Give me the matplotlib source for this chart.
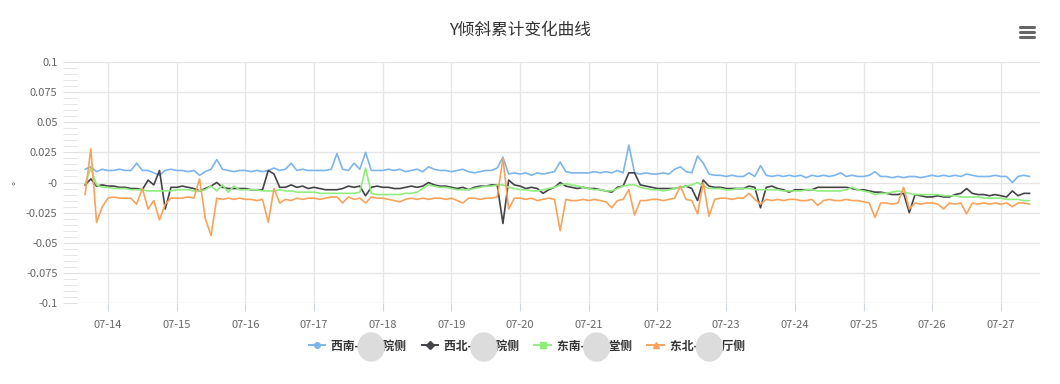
import matplotlib
matplotlib.use('Agg')
import matplotlib.pyplot as plt
import matplotlib.dates as mdates
from matplotlib.lines import Line2D
from matplotlib.patches import Ellipse
import numpy as np
import pandas as pd

plt.rcParams['font.family'] = ['Noto Sans CJK SC', 'DejaVu Sans']
plt.rcParams['axes.unicode_minus'] = False

# 时间轴: 07-13 16:00 起, 每 2 小时一个点
start_time = '2021-07-13 16:00'
step = '2h'

# 数值单位 0.001°
xinan = [11, 13, 9, 11, 10, 10, 11, 10, 10, 16, 10, 10, 8, 6, 10, 11, 10, 10, 9, 10,
         6, 9, 11, 19, 11, 10, 9, 10, 10, 9, 10, 9, 10, 12, 10, 11, 16, 10, 11, 10,
         10, 10, 10, 11, 24, 11, 10, 16, 11, 25, 10, 10, 10, 11, 10, 11, 9, 10, 11, 9,
         13, 11, 10, 10, 9, 10, 11, 9, 8, 9, 10, 10, 12, 21, 7, 8, 7, 8, 6, 8,
         7, 8, 9, 17, 9, 8, 8, 8, 8, 9, 8, 9, 8, 10, 8, 31, 8, 7, 8, 7,
         7, 8, 7, 11, 13, 9, 8, 22, 16, 7, 6, 6, 5, 6, 5, 5, 8, 5, 14, 6,
         5, 6, 5, 6, 5, 6, 4, 6, 5, 6, 5, 6, 8, 5, 6, 5, 5, 6, 9, 5,
         5, 4, 5, 4, 5, 5, 4, 5, 6, 5, 6, 5, 6, 5, 7, 6, 5, 5, 5, 6,
         5, 5, 0, 5, 6, 5]
xibei = [-2, 3, -3, -2, -3, -3, -4, -4, -5, -5, -6, 2, -2, 10, -22, -4, -4, -3, -4, -5,
         -7, -5, -3, 0, -4, -5, -5, -5, -5, -6, -6, -6, 10, 7, -4, -4, -2, -4, -3, -5,
         -4, -5, -6, -6, -6, -5, -3, -4, -3, -11, -4, -3, -4, -4, -5, -5, -4, -3, -4, -3,
         0, -2, -3, -3, -4, -5, -4, -6, -4, -3, -3, -2, -2, -34, 2, -2, -3, -5, -4, -5,
         -9, -6, -4, 0, -3, -4, -5, -4, -5, -5, -6, -7, -8, -4, -3, 8, 8, -2, -3, -4,
         -5, -5, -5, -5, -4, -3, -5, -15, 2, -3, -4, -4, -5, -5, -5, -5, -3, -4, -21, -4,
         -3, -5, -6, -8, -6, -6, -6, -6, -4, -4, -4, -4, -4, -4, -5, -6, -6, -7, -8, -8,
         -9, -10, -10, -9, -25, -10, -11, -12, -12, -11, -12, -12, -10, -9, -5, -9, -10, -10, -11, -10,
         -11, -12, -7, -11, -9, -9]
dongnan = [-1, 12, -2, -4, -4, -5, -5, -5, -6, -6, -6, -7, -7, -7, -7, -7, -6, -6, -6, -7,
           -7, -6, -3, -7, -2, -8, -3, -6, -6, -6, -6, -7, -7, -7, -6, -7, -7, -8, -8, -8,
           -8, -9, -9, -9, -9, -9, -9, -9, -8, 12, -9, -10, -10, -10, -10, -10, -9, -9, -8, -5,
           -2, -3, -4, -4, -5, -6, -6, -6, -5, -4, -3, -3, -2, -2, -4, -5, -6, -6, -7, -7,
           -6, -5, -4, -2, -1, -2, -3, -4, -5, -6, -6, -7, -7, -5, -3, -2, -2, -4, -5, -6,
           -6, -7, -6, -5, -4, -3, -2, 0, -3, -5, -5, -5, -6, -6, -5, -5, -5, -6, -6, -6,
           -6, -6, -7, -7, -7, -7, -6, -6, -7, -7, -7, -7, -7, -6, -4, -6, -7, -8, -10, -9,
           -9, -8, -7, -8, -9, -10, -10, -10, -10, -10, -11, -11, -11, -12, -12, -12, -12, -13, -13, -13,
           -13, -14, -14, -14, -15, -15]
dongbei = [-10, 28, -33, -20, -13, -12, -13, -13, -13, -18, -5, -22, -15, -31, -18, -13, -13, -13, -12, -13,
           3, -30, -44, -13, -14, -13, -14, -13, -14, -14, -15, -14, -33, -5, -17, -14, -15, -13, -14, -13,
           -13, -14, -13, -12, -12, -17, -12, -14, -13, -17, -12, -13, -13, -14, -15, -16, -14, -13, -14, -13,
           -14, -13, -13, -14, -13, -15, -17, -13, -13, -14, -13, -13, -12, 20, -22, -13, -13, -14, -13, -15,
           -14, -13, -14, -40, -14, -15, -15, -14, -15, -14, -15, -16, -21, -15, -14, -6, -27, -15, -15, -14,
           -14, -15, -14, -13, -3, -14, -15, -26, 0, -28, -14, -13, -13, -14, -13, -13, -9, -14, -18, -14,
           -15, -14, -15, -14, -14, -15, -15, -14, -19, -15, -14, -15, -15, -14, -15, -15, -16, -17, -29, -17,
           -17, -18, -17, -4, -22, -17, -18, -17, -17, -18, -22, -17, -18, -17, -26, -17, -18, -17, -18, -17,
           -18, -17, -20, -17, -17, -18]

names = ['西南-\u3000\u3000院侧', '西北-\u3000\u3000院侧', '东南-\u3000\u3000堂侧', '东北-\u3000\u3000厅侧']
colors = ['#7cb5ec', '#434348', '#90ed7d', '#f7a35c']
markers = ['o', 'D', 's', '^']

times = pd.date_range(start=start_time, periods=len(xinan), freq=step)

fig = plt.figure(figsize=(10.6, 3.84), dpi=100)
ax = fig.add_axes([77 / 1060, 1 - 303 / 384, (1040 - 77) / 1060, (303 - 62) / 384])

for vals, name, c in zip([xinan, xibei, dongnan, dongbei], names, colors):
    ax.plot(times, np.array(vals) / 1000, color=c, lw=1.2, label=name)

ax.set_ylim(-0.1, 0.1)
ax.set_xlim(pd.Timestamp('2021-07-13 13:10'), pd.Timestamp('2021-07-27 13:40'))
ax.set_yticks(np.arange(-0.1, 0.1001, 0.025))
ax.set_yticks(np.arange(-0.1, 0.1001, 0.005), minor=True)
ax.yaxis.set_major_formatter(plt.FuncFormatter(lambda v, p: '%g' % round(v, 4)))
ax.xaxis.set_major_locator(mdates.DayLocator())
ax.xaxis.set_major_formatter(mdates.DateFormatter('%m-%d'))

for s in ax.spines.values():
    s.set_visible(False)
ax.grid(True, which='major', color='#e6e6e6', lw=1)
ax.set_axisbelow(True)
ax.tick_params(axis='y', which='both', length=10, color='#e0e0e0', labelsize=8,
               labelcolor='#666666', pad=4)
ax.tick_params(axis='x', length=6, color='#ccd6eb', labelsize=8, labelcolor='#666666', pad=6)
ax.set_ylabel('°', color='#666666', fontsize=8)
ax.yaxis.set_label_coords((23 - 77) / 963, 0.5)

fig.text(0.491, 1 - 30 / 384, 'Y倾斜累计变化曲线', ha='center', va='center',
         fontsize=12, color='#333333')

# 右上角菜单图标
for yy in (27, 32, 37):
    fig.add_artist(Line2D([1020 / 1060, 1034 / 1060], [1 - yy / 384] * 2,
                          color='#666666', lw=2.2, solid_capstyle='round'))

handles = [Line2D([], [], color=c, lw=1.4, marker=m, markersize=4) for c, m in zip(colors, markers)]
leg = fig.legend(handles, names, loc='center', bbox_to_anchor=(0.497, 1 - 346 / 384), ncol=4,
                 frameon=False, prop={'size': 8.5, 'weight': 'bold'}, handlelength=1.4,
                 handletextpad=0.5, columnspacing=1.3)
for t in leg.get_texts():
    t.set_color('#333333')

# 图例中被遮挡的部分
fig.canvas.draw()
for t in leg.get_texts():
    bb = t.get_window_extent()
    cx = bb.x0 + bb.width * 0.53
    cy = (bb.y0 + bb.y1) / 2 - 1
    fig.add_artist(Ellipse((cx / 1060, cy / 384), 26 / 1060, 28 / 384,
                           color='#dcdcdc', zorder=10))

fig.savefig('out.png', dpi=100)
